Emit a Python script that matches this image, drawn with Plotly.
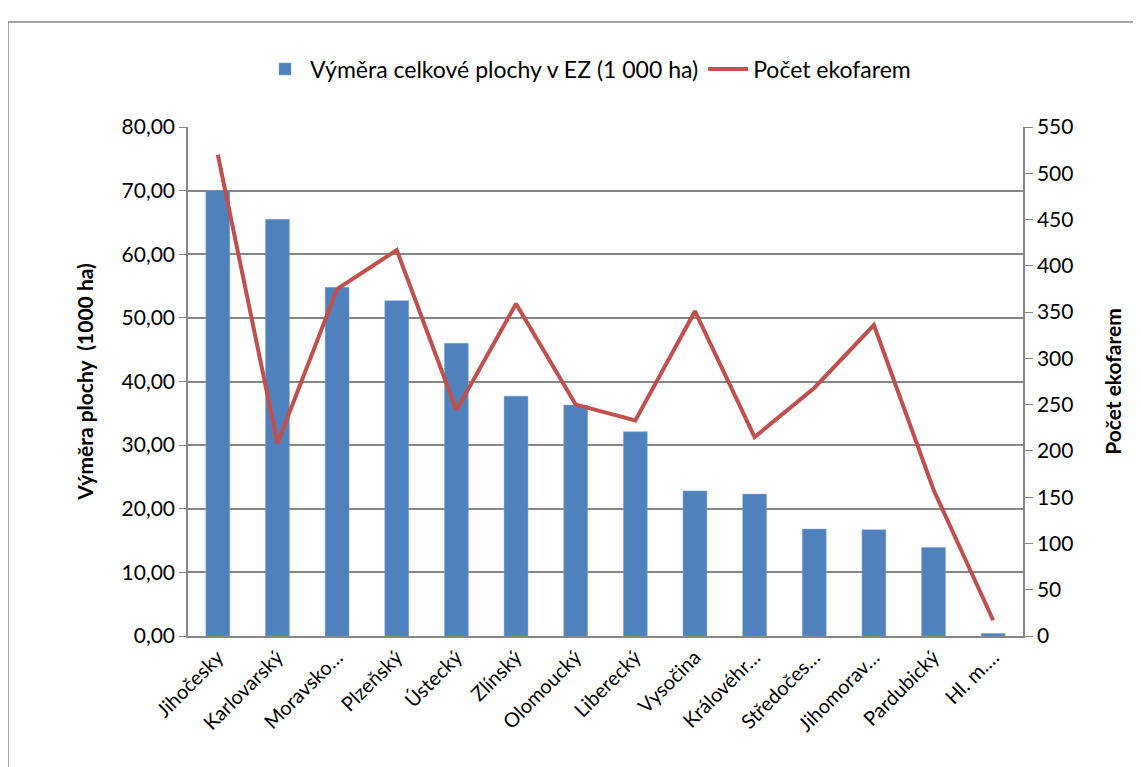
import plotly.graph_objects as go

categories = ["Jihočesky", "Karlovarský", "Moravsko…", "Plzeňský", "Ústecký", "Zlínský",
              "Olomoucký", "Liberecký", "Vysočina", "Královéhr…", "Středočes…",
              "Jihomorav…", "Pardubický", "Hl. m.…"]
area_values = [70.0, 65.5, 54.8, 52.7, 46.0, 37.7, 36.3, 32.1, 22.8, 22.3, 16.8, 16.7, 13.9, 0.4]
farm_counts = [520, 208, 375, 417, 244, 359, 250, 233, 351, 215, 268, 336, 158, 17]
left_ticks = [0, 10, 20, 30, 40, 50, 60, 70, 80]
right_ticks = [0, 50, 100, 150, 200, 250, 300, 350, 400, 450, 500, 550]

FONT = "Lato, 'Open Sans', sans-serif"
GRID = "#868686"

# page body has an 8px offset; plot area on screen: x 188..1023, y 127..636
OFF = 8
L, T = 188 - OFF, 127 - OFF
PW, PH = 835, 509
R = 1141 - L - PW
B = 767 - T - PH


def px(x):
    return (x - OFF - L) / PW


def py(y):
    return (OFF + T + PH - y) / PH


fig = go.Figure()
fig.add_trace(go.Bar(x=categories, y=area_values, name="Výměra celkové plochy v EZ (1 000 ha)",
                     marker=dict(color="#4F81BD", line=dict(color="#7FA3D0", width=0.5)),
                     yaxis="y"))
fig.add_trace(go.Scatter(x=categories, y=farm_counts, name="Počet ekofarem", mode="lines",
                         line=dict(color="#C0504D", width=4), yaxis="y2"))

fig.update_layout(
    width=1141, height=767,
    margin=dict(l=L, r=R, t=T, b=B),
    paper_bgcolor="white", plot_bgcolor="white",
    separators=", ",
    font=dict(family=FONT, size=21, color="black"),
    bargap=0.6,
    showlegend=True,
    legend=dict(orientation="h", x=px(588), xanchor="center", y=py(69), yanchor="middle",
                font=dict(size=23), traceorder="normal", itemwidth=40),
    xaxis=dict(tickangle=-45, showgrid=False, showline=True, linecolor=GRID, linewidth=1.5,
               ticks="", tickfont=dict(size=20), range=[-0.5, 13.5]),
    yaxis=dict(range=[0, 80], tickvals=left_ticks, tickformat=".2f", showgrid=True,
               gridcolor=GRID, gridwidth=1.5, showline=True, linecolor=GRID, linewidth=1.5,
               ticks="outside", ticklen=7, tickcolor=GRID, tickfont=dict(size=21),
               title=dict(text="<b>Výměra plochy  (1000 ha)</b>", font=dict(size=21), standoff=22),
               zeroline=False),
    yaxis2=dict(range=[0, 550], tickvals=right_ticks, overlaying="y", side="right",
                showgrid=False, showline=True, linecolor=GRID, linewidth=1.5,
                ticks="outside", ticklen=8, tickcolor=GRID, tickfont=dict(size=21),
                title=dict(text="<b>Počet ekofarem</b>", font=dict(size=21), standoff=34),
                zeroline=False),
    shapes=[dict(type="rect", xref="paper", yref="paper",
                 x0=px(8), x1=px(1138), y0=py(790), y1=py(22),
                 line=dict(color="#888888", width=1.5), fillcolor="rgba(0,0,0,0)", layer="below")],
)

fig.write_html("out.html")
